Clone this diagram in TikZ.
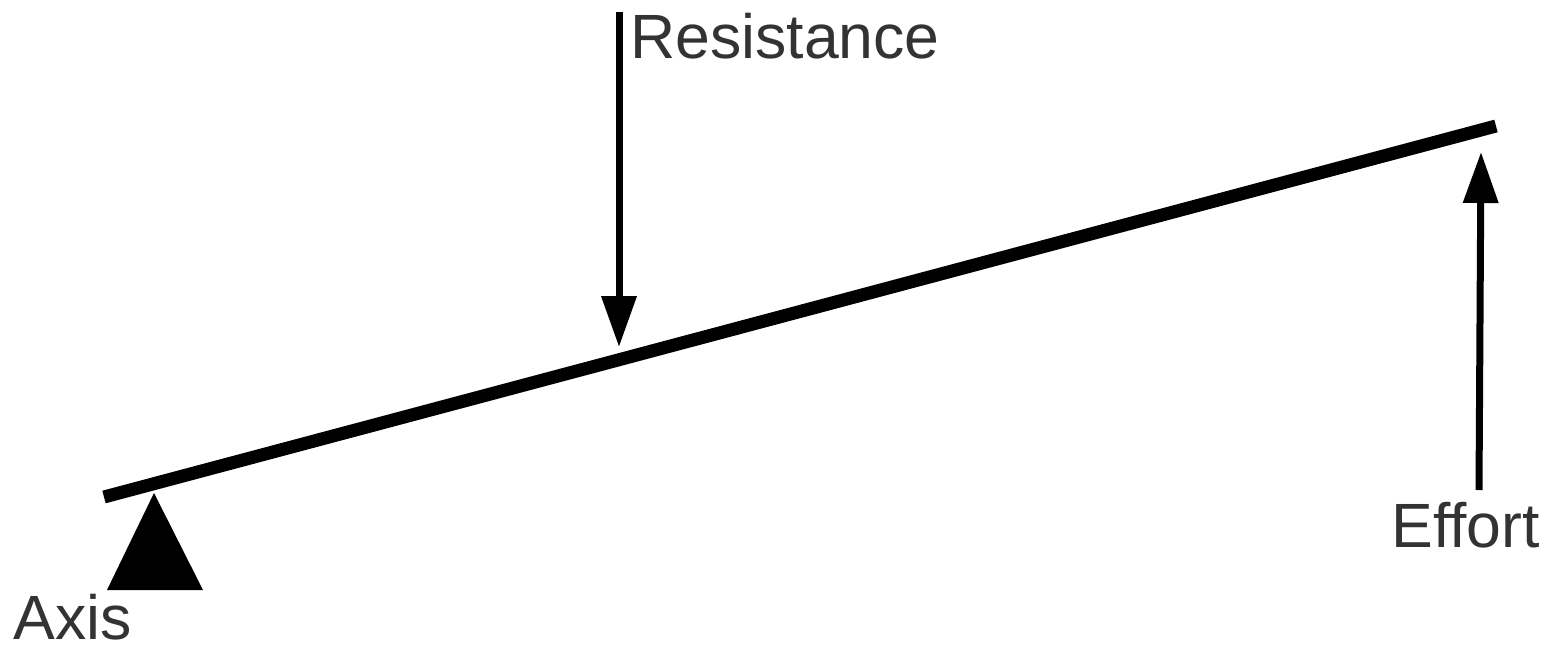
\documentclass[tikz,border=0pt]{standalone}
\usepackage{fontspec}
\setmainfont{Liberation Sans}
\usepackage{xcolor}
\usetikzlibrary{arrows.meta}
\definecolor{labelgray}{HTML}{333333}

\begin{document}
\begin{tikzpicture}[x=0.02cm,y=-0.02cm,
  force/.style={line width=0.14cm,-{Triangle[length=1.02cm,width=0.68cm]}},
  lbl/.style={labelgray,inner sep=0pt,anchor=base west,font=\fontsize{35.6}{42}\selectfont}]
  \useasboundingbox (0,0) rectangle (1549,646);
  % lever and fulcrum
  \coordinate (LvL) at (104,497);
  \coordinate (LvR) at (1496,126);
  \draw[line width=0.26cm] (LvL)--(LvR);
  \coordinate (Apex) at (154,493);
  \fill (Apex)--(203,590)--(107,590)--cycle;
  % forces
  \coordinate (ResTop) at (619,12);
  \coordinate (ResTip) at (619,347);
  \draw[force] (ResTop)--(ResTip);
  \coordinate (EffBot) at (1479,490);
  \coordinate (EffTip) at (1481,152);
  \draw[force] (EffBot)--(EffTip);
  % labels
  \node[lbl] (res) at (630,58)  {Resistance};
  \node[lbl] (eff) at (1391,547) {Effort};
  \node[lbl] (axs) at (13,639)  {Axis};
\end{tikzpicture}
\end{document}
